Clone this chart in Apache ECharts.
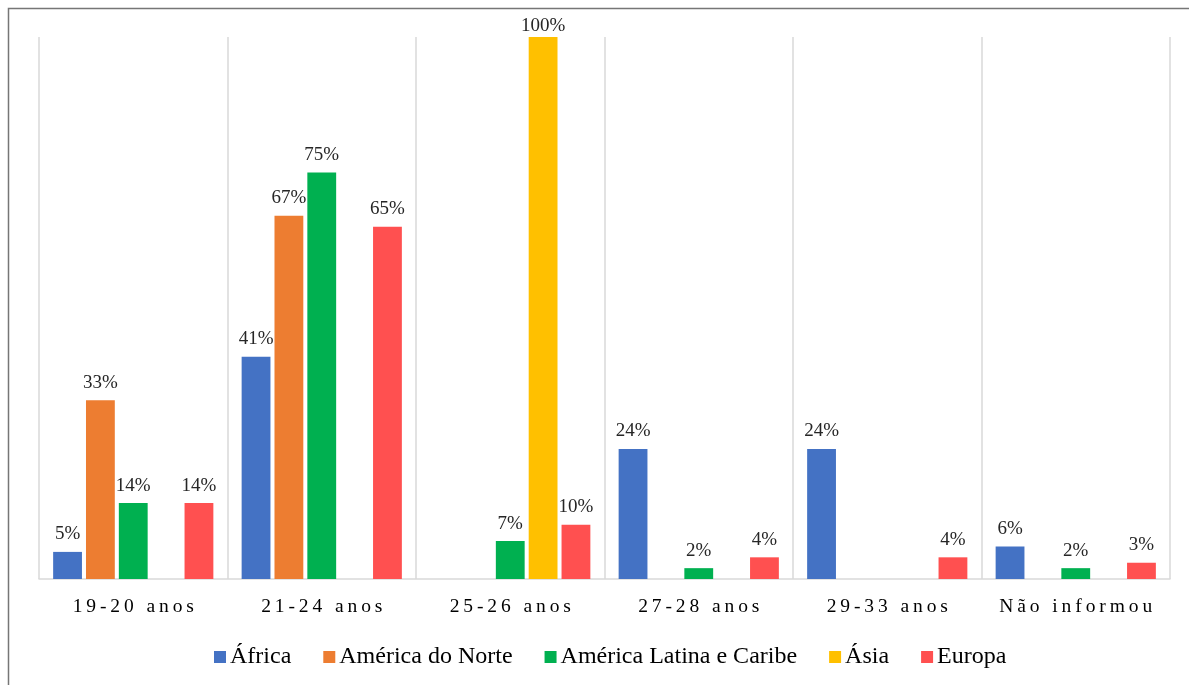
<!DOCTYPE html>
<html>
<head>
<meta charset="utf-8">
<script src="https://cdn.jsdelivr.net/npm/echarts@6/dist/echarts.min.js"></script>
<style>
html,body{margin:0;padding:0;background:#fff;}
#chart{width:1189px;height:685px;}
</style>
</head>
<body>
<div id="chart"></div>
<script>
const categories = ['19-20 anos', '21-24 anos', '25-26 anos', '27-28 anos', '29-33 anos', 'Não informou'];
const seriesNames = ['África', 'América do Norte', 'América Latina e Caribe', 'Ásia', 'Europa'];
const africa = [5, 41, null, 24, 24, 6];
const americaNorte = [33, 67, null, null, null, null];
const americaLatina = [14, 75, 7, 2, null, 2];
const asia = [null, null, 100, null, null, null];
const europa = [14, 65, 10, 4, 4, 3];
const seriesData = [africa, americaNorte, americaLatina, asia, europa];
const colors = ['#4472C4', '#ED7D31', '#00B050', '#FFC000', '#FF5050'];

const font = '"Liberation Serif", "Times New Roman", serif';
const chart = echarts.init(document.getElementById('chart'));
chart.setOption({
  animation: false,
  backgroundColor: '#fff',
  color: colors,
  graphic: [{
    type: 'rect',
    shape: { x: 8.5, y: 8.5, width: 1200, height: 700 },
    style: { fill: 'none', stroke: '#767676', lineWidth: 1.5 },
    silent: true, z: 100
  }],
  grid: { left: 39, right: 19, top: 37, bottom: 106 },
  legend: {
    bottom: 11,
    left: 209,
    itemWidth: 12,
    itemHeight: 12,
    itemGap: 32,
    icon: 'rect',
    textStyle: { fontFamily: font, fontSize: 24, color: '#000', padding: [0, 0, 0, -1] },
    data: seriesNames
  },
  xAxis: {
    type: 'category',
    data: categories,
    axisLine: { show: true, lineStyle: { color: '#d9d9d9', width: 1.5 } },
    axisTick: { show: false },
    splitLine: { show: true, interval: 0, lineStyle: { color: '#d9d9d9', width: 1.5 } },
    axisLabel: {
      fontFamily: font, fontSize: 19.5, color: '#000', margin: 18, interval: 0,
      formatter: v => v.split('').join('\u2009')
    }
  },
  yAxis: {
    type: 'value', min: 0, max: 100,
    show: false,
    splitLine: { show: false }
  },
  series: seriesNames.map((name, i) => ({
    name: name,
    type: 'bar',
    data: seriesData[i].map(v => (v === 100 ? { value: v, label: { distance: 1 } } : v)),
    barCategoryGap: '15%',
    barGap: '14%',
    itemStyle: { color: colors[i] },
    label: {
      show: true, position: 'top', distance: 8,
      fontFamily: font, fontSize: 19, color: '#262626',
      formatter: p => (p.value == null ? '' : p.value + '%')
    }
  }))
});
</script>
</body>
</html>
